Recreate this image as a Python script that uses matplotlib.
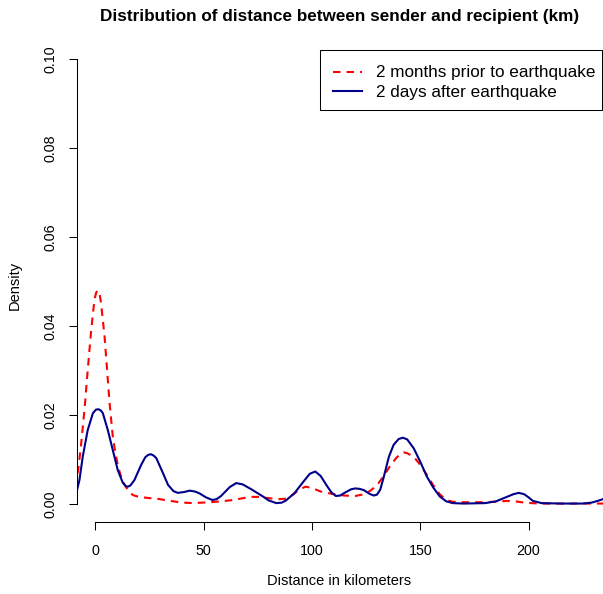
import matplotlib
matplotlib.use("Agg")
import matplotlib.pyplot as plt
from matplotlib.patches import Rectangle

# ---- data (km, density) ----
prior_km = [-9.3, -8.0, -6.6, -5.1, -3.6, -2.0, -0.5, 0.3, 1.1, 1.9, 2.6, 4.2, 5.7, 6.5,
            8.0, 9.2, 10.3, 11.5, 12.6, 13.8, 15.0, 16.2, 17.3, 20.0, 23.5, 29.6, 33.0,
            37.4, 41.0, 45.0, 49.0, 52.8, 58.0, 63.6, 68.0, 71.3, 76.0, 80.0, 85.0,
            88.0, 91.0, 94.0, 97.0, 100.0, 104.0, 110.0, 115.0, 120.0, 124.0, 127.0,
            130.0, 133.0, 136.0, 139.0, 141.0, 142.5, 144.0, 147.0, 150.0, 153.0,
            156.0, 159.0, 162.0, 165.0, 170.0, 178.0, 185.0, 190.0, 194.0, 198.0,
            205.0, 210.0, 220.0, 235.0]
prior_density = [0.0039, 0.0076, 0.0136, 0.0211, 0.0300, 0.0390, 0.0458, 0.0475, 0.0480,
                 0.0472, 0.0450, 0.0376, 0.0279, 0.0227, 0.0151, 0.0115, 0.0087, 0.0066,
                 0.0051, 0.0040, 0.0032, 0.0025, 0.0020, 0.0016, 0.0014, 0.0011,
                 0.0008, 0.0005, 0.0003, 0.0002, 0.0003, 0.0004, 0.0006, 0.0009,
                 0.0013, 0.0016, 0.0016, 0.0013, 0.0011, 0.0012, 0.0020, 0.0032,
                 0.0039, 0.0036, 0.0028, 0.0022, 0.0019, 0.0018, 0.0022, 0.0030,
                 0.0042, 0.0062, 0.0085, 0.0104, 0.0113, 0.0116, 0.0114, 0.0106,
                 0.0088, 0.0066, 0.0042, 0.0022, 0.0009, 0.0005, 0.0004, 0.0004,
                 0.0005, 0.0007, 0.0006, 0.0003, 0.0001, 0.0001, 0.0001, 0.0001]

after_km = [-9.3, -7.4, -5.9, -3.6, -1.2, 0.2, 1.4, 2.5, 3.4, 5.7, 8.0, 10.3, 12.6, 14.0,
            15.0, 16.2, 18.0, 21.1, 23.0, 24.2, 25.5, 26.8, 28.1, 31.2, 33.5, 36.0,
            38.0, 41.0, 43.5, 46.0, 48.0, 51.0, 54.0, 56.0, 58.0, 62.0, 65.0, 68.0,
            72.0, 77.0, 80.0, 83.5, 86.0, 88.0, 92.0, 96.0, 99.0, 101.5, 104.0, 107.0,
            109.0, 111.0, 113.0, 115.0, 118.0, 120.0, 122.0, 124.0, 126.5, 128.5,
            130.0, 131.5, 133.0, 135.5, 137.7, 140.0, 142.0, 144.0, 147.0, 150.0,
            153.0, 156.0, 159.0, 162.0, 165.0, 170.0, 180.0, 185.0, 190.0, 193.0,
            195.5, 198.0, 200.0, 202.0, 206.0, 215.0, 225.0, 229.0, 232.0, 235.0]
after_density = [0.0016, 0.0054, 0.0106, 0.0166, 0.0204, 0.0212, 0.0213, 0.0210, 0.0204,
                 0.0166, 0.0121, 0.0076, 0.0048, 0.0040, 0.0039, 0.0042, 0.0054,
                 0.0088, 0.0105, 0.0110, 0.0112, 0.0109, 0.0103, 0.0069, 0.0043,
                 0.0029, 0.0025, 0.0027, 0.0030, 0.0028, 0.0024, 0.0015, 0.0009,
                 0.0011, 0.0018, 0.0038, 0.0047, 0.0044, 0.0033, 0.0018, 0.0008,
                 0.0002, 0.0003, 0.0008, 0.0025, 0.0050, 0.0068, 0.0073, 0.0063,
                 0.0040, 0.0026, 0.0018, 0.0019, 0.0025, 0.0033, 0.0035, 0.0034,
                 0.0031, 0.0023, 0.0019, 0.0021, 0.0032, 0.0058, 0.0106, 0.0133,
                 0.0146, 0.0149, 0.0145, 0.0125, 0.0095, 0.0062, 0.0037, 0.0017,
                 0.0006, 0.0002, 0.0001, 0.0002, 0.0006, 0.0016, 0.0022, 0.0025,
                 0.0022, 0.0015, 0.0007, 0.0002, 0.0001, 0.0001, 0.0003, 0.0007,
                 0.0012]

x_ticks = [0, 50, 100, 150, 200]
y_ticks = [0.00, 0.02, 0.04, 0.06, 0.08, 0.10]
y_tick_labels = ["0.00", "0.02", "0.04", "0.06", "0.08", "0.10"]
series_labels = ["2 months prior to earthquake", "2 days after earthquake"]

plt.rcParams["font.family"] = ["Liberation Sans", "DejaVu Sans"]

W, H, DPI = 603, 594, 100
fig = plt.figure(figsize=(W / DPI, H / DPI), dpi=DPI)
ax = fig.add_axes([76.5 / W, (H - 521.8) / H, (603 - 76.5) / W, (521.8 - 41.2) / H])

ax.plot(prior_km, prior_density, color="#ff0000", lw=1.5, linestyle=(0, (3.6, 2.9)),
        label=series_labels[0], solid_joinstyle="round", dash_joinstyle="round")
ax.plot(after_km, after_density, color="#00008b", lw=1.5,
        label=series_labels[1], solid_joinstyle="round")

ax.set_xlim(-8.77, 234.4)
ax.set_ylim(-0.004, 0.104)

for s in ["top", "right"]:
    ax.spines[s].set_visible(False)
ax.spines["left"].set_bounds(0, 0.10)
ax.spines["bottom"].set_bounds(0, 200)
for s in ["left", "bottom"]:
    ax.spines[s].set_linewidth(0.75)
    ax.spines[s].set_color("black")

ax.set_xticks(x_ticks)
ax.set_xticklabels([str(v) for v in x_ticks])
ax.set_yticks(y_ticks)
ax.set_yticklabels(y_tick_labels, rotation=90, va="center")
ax.tick_params(axis="both", direction="out", length=6, width=0.75, labelsize=10.3,
               color="black")
ax.tick_params(axis="x", pad=10)
ax.tick_params(axis="y", pad=7.5)

fig.text(339.5 / W, 1 - 16 / H, "Distribution of distance between sender and recipient (km)",
         ha="center", va="center", fontsize=12.35, fontweight="bold")
fig.text(339.5 / W, 1 - 581 / H, "Distance in kilometers", ha="center", va="center",
         fontsize=10.5)
fig.text(15 / W, 1 - 285 / H, "Density", ha="center", va="center", rotation=90,
         fontsize=10.5)

# legend: frameless entries plus an R-style box
leg = ax.legend(loc="upper left", bbox_to_anchor=(333 / W, 1 - 65.5 / H),
                bbox_transform=fig.transFigure, fontsize=12.3, frameon=False,
                borderaxespad=0, borderpad=0, handlelength=1.7, handletextpad=0.8,
                labelspacing=0.24)
fig.patches.append(Rectangle((319.5 / W, 1 - 109.5 / H), (602 - 319.5) / W,
                             (109.5 - 50.5) / H, transform=fig.transFigure,
                             fill=False, edgecolor="black", linewidth=0.75))

fig.savefig("out.png", dpi=DPI)
